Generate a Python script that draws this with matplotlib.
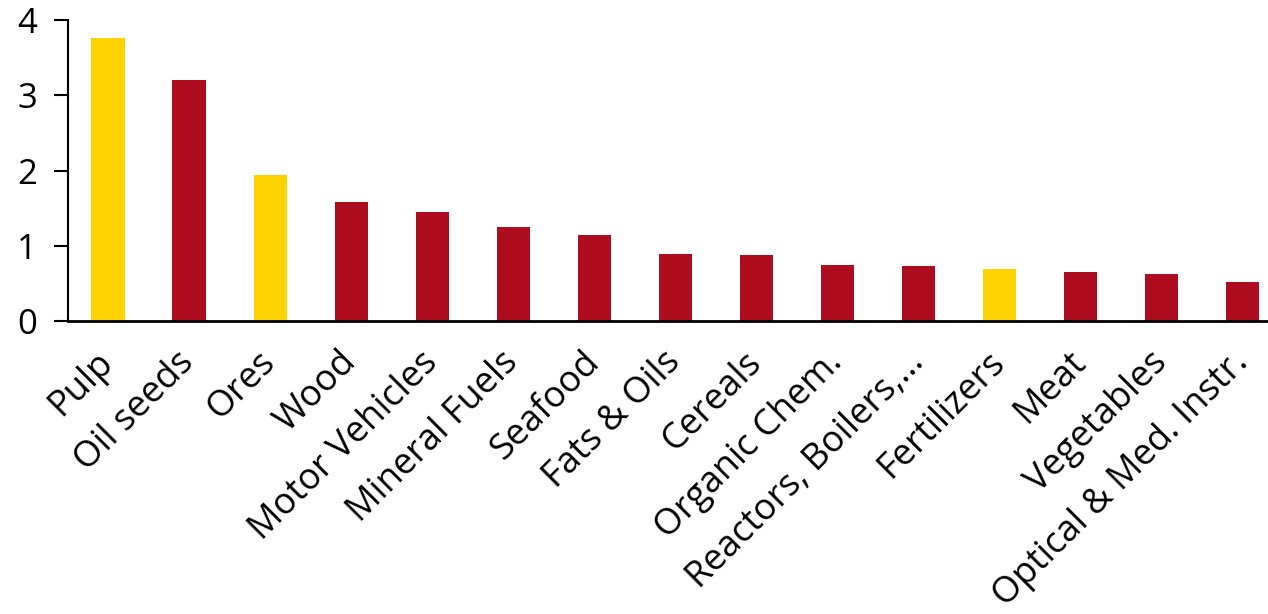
import matplotlib
matplotlib.use("Agg")
import matplotlib.pyplot as plt

categories = ["Pulp", "Oil seeds", "Ores", "Wood", "Motor Vehicles", "Mineral Fuels",
              "Seafood", "Fats & Oils", "Cereals", "Organic Chem.", "Reactors, Boilers,...",
              "Fertilizers", "Meat", "Vegetables", "Optical & Med. Instr."]
values = [3.76, 3.20, 1.94, 1.58, 1.45, 1.25, 1.14, 0.89, 0.88, 0.74, 0.73, 0.69, 0.65, 0.62, 0.52]
highlight = [True, False, True, False, False, False, False, False, False, False, False, True, False, False, False]
yticks = [0, 1, 2, 3, 4]

RED = "#AE0C1F"
YELLOW = "#FFD300"

plt.rcParams['font.family'] = ['Open Sans', 'DejaVu Sans']

fig = plt.figure(figsize=(12.68, 6.14), dpi=100)
W, H = 1268, 614
ax = fig.add_axes([67.5 / W, (H - 321) / H, (W - 67.5) / W, 301 / H])

colors = [YELLOW if h else RED for h in highlight]
x = list(range(len(categories)))
ax.bar(x, values, width=0.41, color=colors, zorder=2)

ax.set_xlim(-0.5, 14.31)
ax.set_ylim(0, 4)
ax.set_yticks(yticks)
ax.set_yticklabels([str(t) for t in yticks], fontsize=25)
ax.tick_params(axis='y', direction='out', length=10, width=1.5, pad=12)
ax.tick_params(axis='x', length=0, pad=26)
ax.set_xticks(x)
ax.set_xticklabels(categories, rotation=45, ha='right', va='center',
                   rotation_mode='anchor', fontsize=26)

for s in ['top', 'right']:
    ax.spines[s].set_visible(False)
ax.spines['left'].set_linewidth(1.5)
ax.spines['bottom'].set_linewidth(2)

fig.savefig("out.png", dpi=100)
